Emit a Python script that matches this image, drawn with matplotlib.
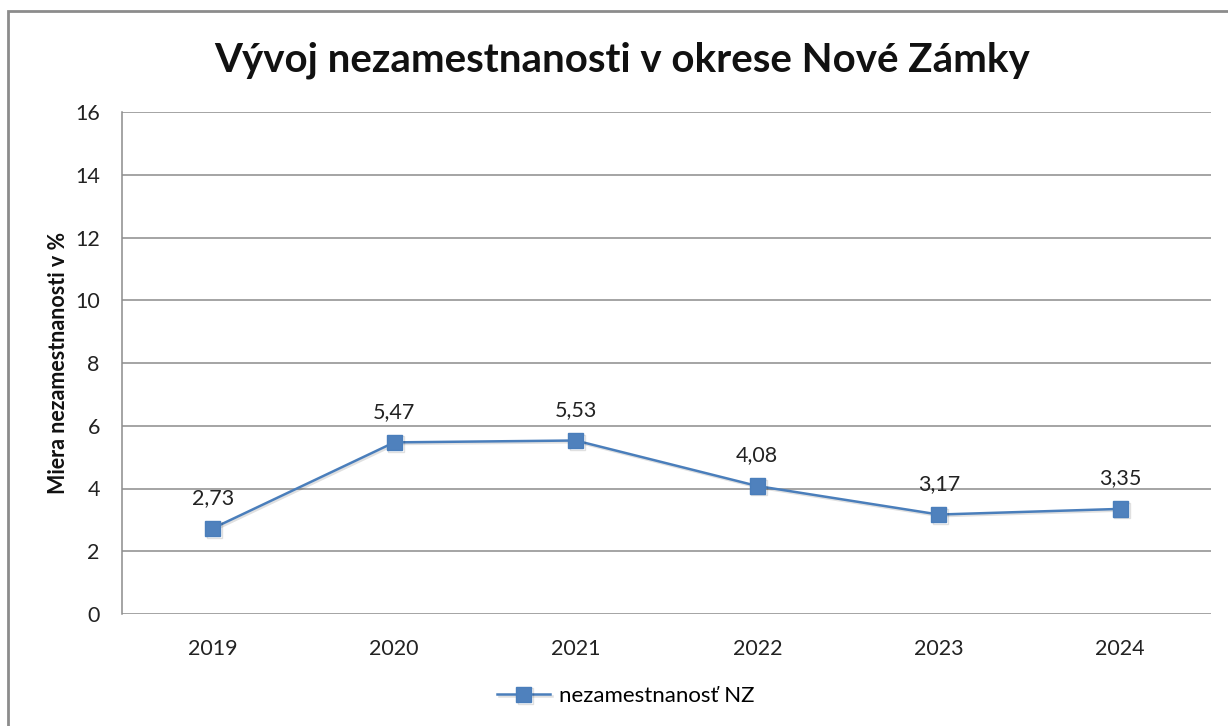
import matplotlib.pyplot as plt
from matplotlib.patches import Rectangle
import matplotlib.patheffects as pe

years = ['2019', '2020', '2021', '2022', '2023', '2024']
rates = [2.73, 5.47, 5.53, 4.08, 3.17, 3.35]
rate_labels = ['2,73', '5,47', '5,53', '4,08', '3,17', '3,35']
y_ticks = [0, 2, 4, 6, 8, 10, 12, 14, 16]

plt.rcParams['font.family'] = ['Lato', 'DejaVu Sans']

W, H = 1228, 726
fig = plt.figure(figsize=(W / 100, H / 100), dpi=100)
ax = fig.add_axes([122 / W, 1 - 614 / H, (1211 - 122) / W, (614 - 112) / H])

# outer chart frame (right and bottom edges are cut off)
fig.patches.append(Rectangle((8 / W, -0.1), 1.2, 1 - 11 / H + 0.1,
                             transform=fig.transFigure, fill=False,
                             edgecolor='#8c8c8c', linewidth=2))

x = range(len(years))
blue = '#4a7ebb'
ax.plot(x, rates, color=blue, linewidth=1.8, marker='s', markersize=11,
        markerfacecolor='#4f81bd', markeredgecolor='#4a7ebb',
        label='nezamestnanosť NZ',
        path_effects=[pe.SimpleLineShadow(offset=(1.2, -1.2), alpha=0.12), pe.Normal()])

for i, (v, t) in enumerate(zip(rates, rate_labels)):
    ax.annotate(t, (i, v), xytext=(0, 22), textcoords='offset points',
                ha='center', va='center', fontsize=15.5, color='#222222')

ax.set_xlim(-0.5, len(years) - 0.5)
ax.set_ylim(0, 16)
ax.set_yticks(y_ticks)
ax.set_xticks(list(x))
ax.set_xticklabels(years)
ax.tick_params(axis='both', length=0, labelsize=15.5, colors='#222222')
ax.tick_params(axis='y', pad=16)
ax.tick_params(axis='x', pad=18)

ax.grid(axis='y', color='#8c8c8c', linewidth=1.1)
ax.set_axisbelow(True)
for s in ['top', 'right', 'bottom']:
    ax.spines[s].set_visible(False)
ax.spines['left'].set_color('#8c8c8c')
ax.spines['left'].set_linewidth(1.1)

ax.set_ylabel('Miera nezamestnanosti v %', fontsize=15.5, fontweight='bold',
              color='#111111', labelpad=4)

fig.text(622 / W, 1 - 60 / H, 'Vývoj nezamestnanosti v okrese Nové Zámky',
         ha='center', va='center', fontsize=29, fontweight='bold', color='#111111')

fig.legend(loc='center', bbox_to_anchor=(626 / W, 1 - 696 / H), frameon=False,
           fontsize=16, handlelength=2.4, handletextpad=0.4)

fig.savefig('out.png', dpi=100)
